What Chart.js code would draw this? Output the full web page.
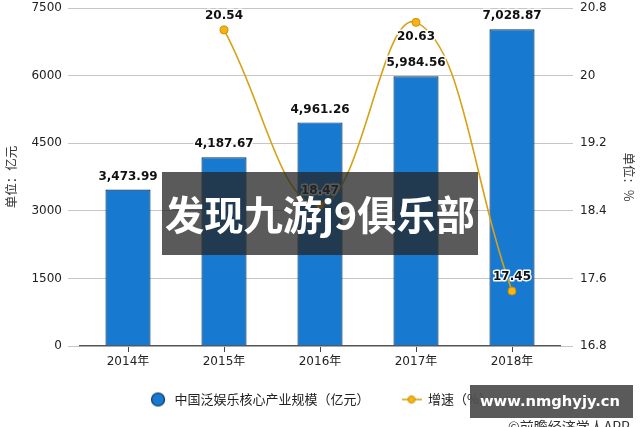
<!DOCTYPE html>
<html><head><meta charset="utf-8">
<script src="https://cdn.jsdelivr.net/npm/chart.js@4"></script>
<style>html,body{margin:0;padding:0;background:#fff}#wrap{width:640px;height:427px;position:relative}</style>
</head><body><div id="wrap"><canvas id="c" width="640" height="427"></canvas></div>
<script>
const categories = ['2014年','2015年','2016年','2017年','2018年'];
const scaleValues = [3473.99, 4187.67, 4961.26, 5984.56, 7028.87];
const growthValues = [null, 20.54, 18.47, 20.63, 17.45];
const leftTicks = [0, 1500, 3000, 4500, 6000, 7500];
const rightTicks = [16.8, 17.6, 18.4, 19.2, 20, 20.8];
const seriesNames = ['中国泛娱乐核心产业规模（亿元）', '增速（%）'];
const axisTitles = ['单位：亿元', '单位：%'];
const bannerText = '发现九游j9俱乐部';
const siteText = 'www.nmghyjy.cn';
const sourceText = '©前瞻经济学人APP';

const FONT = '"DejaVu Sans", "Noto Sans CJK SC", sans-serif';
const CJK = '"Noto Sans CJK SC", "DejaVu Sans", sans-serif';
const BAR_FILL = '#1779cf', BAR_EDGE = '#0b3560';
const LINE_COL = '#d6a214', PT_FILL = '#f6b512', PT_EDGE = '#cf8e00';
const lineLabelBelow = [false, false, false, true, false];

function mkIcon(kind){
  const c = document.createElement('canvas');
  const g = c.getContext('2d');
  if (kind === 0){
    c.width = 16; c.height = 16;
    g.beginPath(); g.arc(8, 8, 6.5, 0, Math.PI*2);
    g.fillStyle = BAR_FILL; g.fill();
    g.lineWidth = 1.2; g.strokeStyle = BAR_EDGE; g.stroke();
  } else {
    c.width = 20; c.height = 12;
    g.beginPath(); g.moveTo(0, 6); g.lineTo(20, 6);
    g.strokeStyle = LINE_COL; g.lineWidth = 1.6; g.stroke();
    g.beginPath(); g.arc(10, 6, 3.6, 0, Math.PI*2);
    g.fillStyle = PT_FILL; g.fill();
    g.lineWidth = 1; g.strokeStyle = PT_EDGE; g.stroke();
  }
  return c;
}
const icons = [mkIcon(0), mkIcon(1)];

function fmtNum(v){
  return v.toLocaleString('en-US', {minimumFractionDigits: 2, maximumFractionDigits: 2});
}

function haloText(ctx, txt, x, y){
  ctx.lineWidth = 3; ctx.strokeStyle = 'rgba(255,255,255,0.95)';
  ctx.strokeText(txt, x, y);
  ctx.fillStyle = '#111';
  ctx.fillText(txt, x, y);
}

const labelPlugin = {
  id: 'valueLabels',
  afterDatasetsDraw(chart){
    const ctx = chart.ctx;
    ctx.save();
    ctx.font = 'bold 12px ' + FONT;
    ctx.textAlign = 'center'; ctx.textBaseline = 'middle'; ctx.lineJoin = 'round';
    const bm = chart.getDatasetMeta(chart.data.datasets.findIndex(d => d.type === 'bar'));
    bm.data.forEach((el, i) => haloText(ctx, fmtNum(scaleValues[i]), el.x, el.y - 13));
    const lm = chart.getDatasetMeta(chart.data.datasets.findIndex(d => d.type === 'line'));
    lm.data.forEach((el, i) => {
      if (growthValues[i] == null) return;
      haloText(ctx, growthValues[i].toFixed(2), el.x, el.y + (lineLabelBelow[i] ? 15 : -14));
    });
    ctx.restore();
  }
};

const overlayPlugin = {
  id: 'overlays',
  afterDraw(chart){
    const ctx = chart.ctx;
    ctx.save();
    ctx.fillStyle = 'rgba(38,38,38,0.76)';
    ctx.fillRect(162, 172, 316, 83);
    ctx.font = 'bold 40px ' + CJK;
    let w = ctx.measureText(bannerText).width;
    let sz = Math.min(40, 40 * 310 / w);
    ctx.font = 'bold ' + sz + 'px ' + CJK;
    ctx.fillStyle = '#fff'; ctx.textAlign = 'center'; ctx.textBaseline = 'middle';
    ctx.fillText(bannerText, 320, 215);
    ctx.fillStyle = 'rgba(78,78,78,0.93)';
    ctx.fillRect(470, 385, 163, 33);
    ctx.font = 'bold 18px ' + FONT;
    w = ctx.measureText(siteText).width;
    sz = 18 * 140 / w;
    ctx.font = 'bold ' + sz + 'px ' + FONT;
    ctx.fillStyle = '#fff';
    ctx.fillText(siteText, 550, 402);
    ctx.font = '14px ' + CJK;
    ctx.fillStyle = '#333'; ctx.textAlign = 'left';
    ctx.fillText(sourceText, 508, 427);
    ctx.restore();
  }
};

const legendPatch = {
  id: 'legendPatch',
  beforeLayout(chart){
    const lg = chart.legend;
    if (lg && !lg._patched){
      const orig = lg.fit;
      lg.fit = function(){ orig.call(this); this.height = 51; };
      lg._patched = true;
    }
  },
  afterLayout(chart){
    const lg = chart.legend;
    if (lg){ lg.top = 361; lg.bottom = 427; }
  }
};

function noPad(s){ s.paddingTop = 0; s.paddingBottom = 0; }

new Chart(document.getElementById('c'), {
  data: {
    labels: categories,
    datasets: [
      {
        type: 'bar', label: seriesNames[0], data: scaleValues, yAxisID: 'y',
        backgroundColor: BAR_FILL, borderColor: BAR_EDGE, borderWidth: 1.2,
        barPercentage: 0.94, categoryPercentage: 0.5, order: 2
      },
      {
        type: 'line', label: seriesNames[1], data: growthValues, yAxisID: 'y1',
        borderColor: LINE_COL, borderWidth: 1.6, tension: 0.42,
        pointRadius: 4, pointBackgroundColor: PT_FILL, pointBorderColor: PT_EDGE,
        pointBorderWidth: 1, fill: false, order: 1
      }
    ]
  },
  options: {
    responsive: false, animation: false, devicePixelRatio: 1,
    layout: { padding: { top: 8, left: 0, right: 0, bottom: 0 } },
    plugins: {
      tooltip: { enabled: false },
      legend: {
        position: 'bottom',
        labels: {
          usePointStyle: true, pointStyleWidth: 20, padding: 32,
          font: { size: 13, family: CJK }, color: '#222',
          generateLabels(chart){
            return seriesNames.map((t, i) => ({
              text: t, pointStyle: icons[i], fillStyle: 'transparent', strokeStyle: 'transparent',
              lineWidth: 0, hidden: false, datasetIndex: i, fontColor: '#222'
            }));
          }
        }
      }
    },
    scales: {
      x: {
        offset: true,
        grid: { offset: false, drawOnChartArea: false, tickColor: '#444', tickLength: 6, color: '#444' },
        border: { display: true, color: '#555', width: 1.2 },
        ticks: { color: '#222', font: { size: 12, family: FONT }, padding: 3, maxRotation: 0 },
        afterFit(s){ s.height = 30; }
      },
      y: {
        position: 'left', min: 0, max: 7500,
        afterBuildTicks(s){ s.ticks = leftTicks.map(v => ({ value: v })); },
        grid: { color: '#c6c6c6', tickLength: 12, tickColor: '#c6c6c6' },
        border: { display: false },
        ticks: { color: '#222', font: { size: 12, family: FONT }, padding: 6, callback: v => String(v) },
        title: { display: true, text: axisTitles[0], color: '#333', font: { size: 12.5, family: CJK }, padding: { top: 4, bottom: 0 } },
        afterFit(s){ s.width = 80; noPad(s); }
      },
      y1: {
        position: 'right', min: 16.8, max: 20.8,
        afterBuildTicks(s){ s.ticks = rightTicks.map(v => ({ value: v })); },
        grid: { drawOnChartArea: false, tickLength: 13, tickColor: '#c6c6c6', color: '#c6c6c6' },
        border: { display: false },
        ticks: { color: '#222', font: { size: 12, family: FONT }, padding: 7, callback: v => String(Number(v.toFixed(1))) },
        title: { display: true, text: axisTitles[1], color: '#333', font: { size: 12.5, family: CJK }, padding: { top: 4, bottom: 0 } },
        afterFit(s){ s.width = 80; noPad(s); }
      }
    }
  },
  plugins: [labelPlugin, overlayPlugin, legendPatch]
});
</script>
</body></html>
